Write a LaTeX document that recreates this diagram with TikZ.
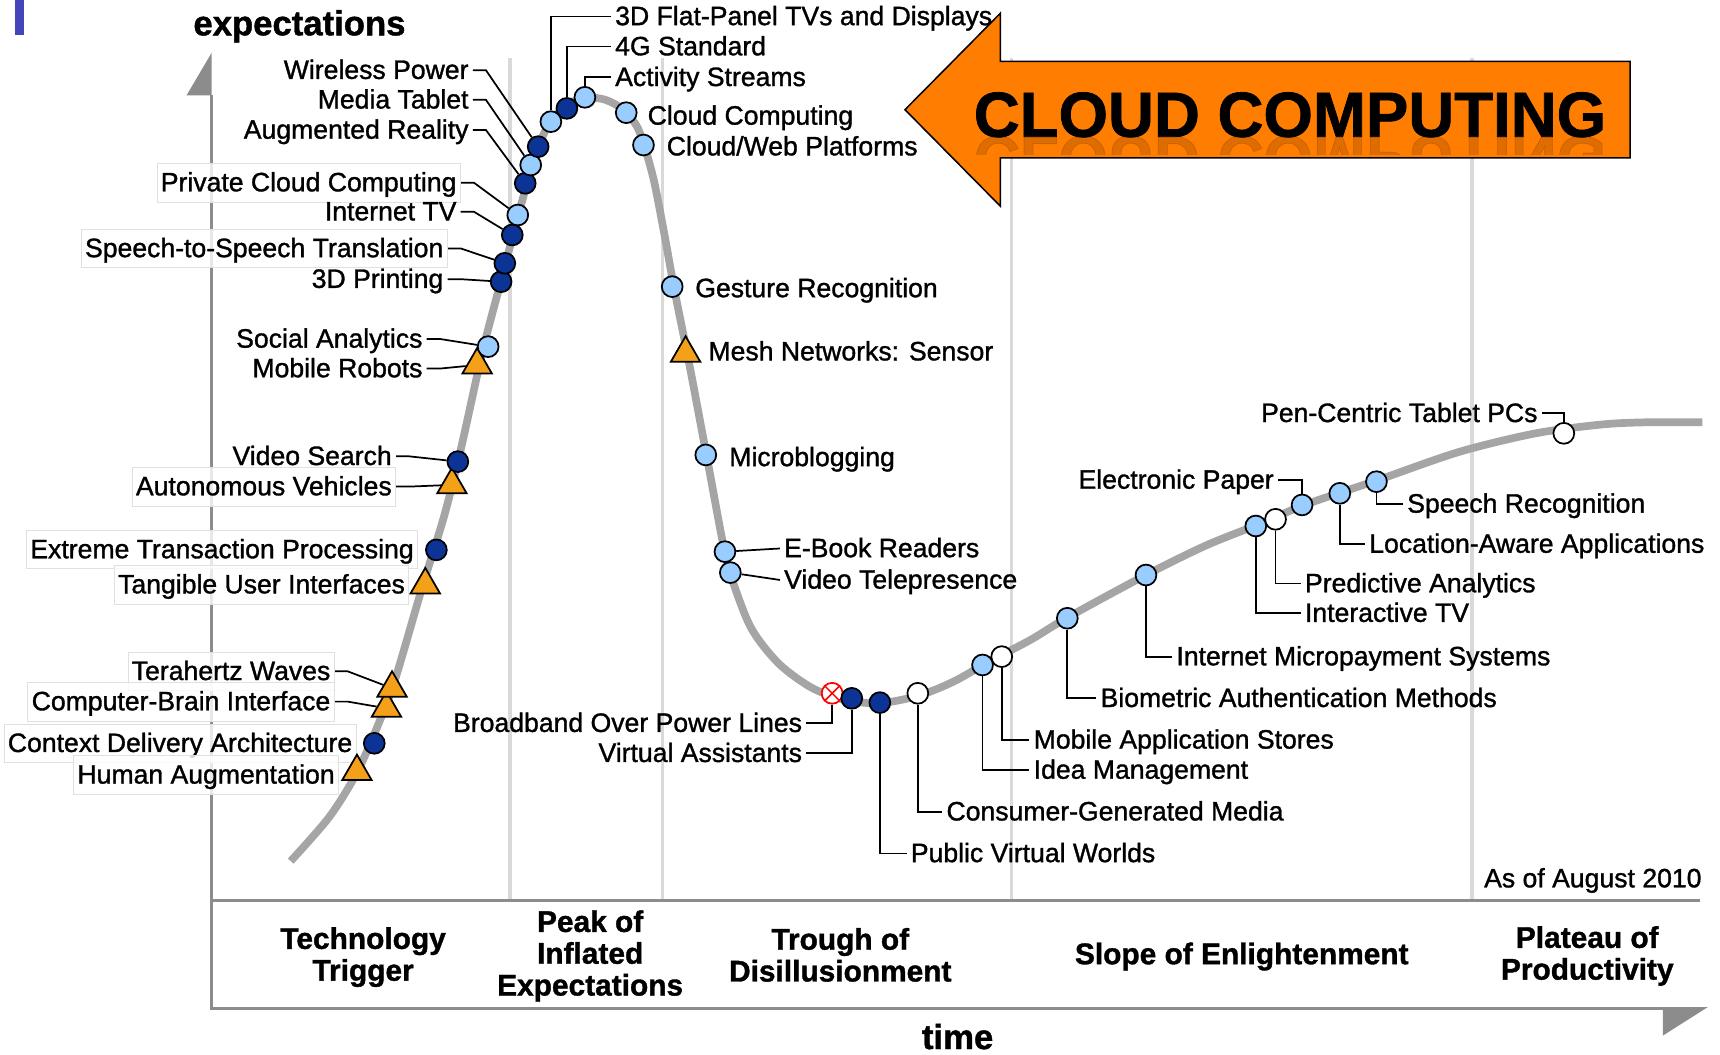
\documentclass[tikz,border=0pt]{standalone}
\usepackage{fontspec}
\setmainfont{Liberation Sans}[FakeBold=1.2]
\usetikzlibrary{shapes.geometric,backgrounds}

\definecolor{dkblue}{RGB}{12,52,150}
\definecolor{ltblue}{RGB}{153,204,255}
\definecolor{tri}{RGB}{245,160,25}
\definecolor{cloudorange}{RGB}{255,125,0}
\definecolor{curvegray}{RGB}{165,165,165}
\definecolor{sepgray}{RGB}{217,217,217}
\definecolor{axisgray}{RGB}{140,140,140}
\definecolor{barblue}{RGB}{68,68,187}

\tikzset{
  mk/.style={circle,draw=black,line width=0.9pt,minimum size=0.38cm,inner sep=0pt},
  dk/.style={mk,fill=dkblue},
  lt/.style={mk,fill=ltblue},
  wt/.style={mk,fill=white},
  tr/.style={regular polygon,regular polygon sides=3,draw=black,line width=0.9pt,fill=tri,minimum size=0.62cm,inner sep=0pt},
  xx/.style={mk,draw=red,fill=white,path picture={\draw[red,line width=0.8pt] (path picture bounding box.north west)--(path picture bounding box.south east) (path picture bounding box.north east)--(path picture bounding box.south west);}},
  lbl/.style={font=\fontsize{13.8}{15}\selectfont,inner sep=2pt,text height=12.5pt,text depth=3.5pt},
  lbe/.style={lbl,anchor=east},
  lbw/.style={lbl,anchor=west},
  boxed/.style={fill=white,fill opacity=0.8,text opacity=1,draw=black!12,line width=0.4pt},
  lead/.style={line width=0.9pt},
  phase/.style={font=\bfseries\fontsize{15.5}{16.5}\selectfont,align=center},
  axlbl/.style={font=\bfseries\fontsize{18}{20}\selectfont},
}

\begin{document}
\begin{tikzpicture}[x=0.02cm,y=-0.02cm]
\useasboundingbox (0,0) rectangle (1568,961);

\begin{scope}[on background layer]
  \fill[barblue] (14,0) rectangle (22,32);
  \foreach \sx in {465,604,922,1342}
    \draw[sepgray,line width=1.7pt] (\sx,53) -- (\sx,821);
  % axes and phase band
  \draw[axisgray,line width=1.6pt] (193,87) -- (193,919) -- (1516,919);
  \draw[axisgray,line width=1.6pt] (193,821) -- (1550,821);
  \fill[axisgray] (193,48) -- (193,87) -- (170,87) -- cycle;
  \fill[axisgray] (1516,918) -- (1557,918) -- (1516,944) -- cycle;
  % hype curve
  \draw[curvegray,line width=4pt] plot[smooth] coordinates {(265,785) (300,745) (325,705) (345,660) (360,620) (385,535) (405,470) (420,410) (440,320) (457,255) (472,198) (490,135) (505,107) (520,94) (535,89) (552,91) (568,100) (582,118) (595,160) (605,210) (615,265) (628,330) (645,420) (660,500) (668,530) (685,573) (710,605) (740,627) (770,638) (802,641) (838,634) (870,621) (900,604) (940,583) (973,563) (1045,524) (1100,497) (1150,477) (1190,460) (1255,438) (1330,412) (1400,395) (1460,387) (1500,385) (1552,385)};
\end{scope}

\node[axlbl] (ylab) at (273,24) {expectations};
\node[axlbl] (xlab) at (873,945) {time};

\node[phase] (ptt) at (331,872.5) {Technology\\Trigger};
\node[phase] (ppk) at (538,871.5) {Peak of\\Inflated\\Expectations};
\node[phase] (ptr) at (766,870.5) {Trough of\\Disillusionment};
\node[phase] (psl) at (1132,872) {Slope of Enlightenment};
\node[phase] (ppl) at (1447,871.5) {Plateau of\\Productivity};
\node[lbe] (asof) at (1555,801) {As of August 2010};

% labels left of the curve
\node[lbe] (lwp) at (431,64) {Wireless Power};
\node[lbe] (lmt) at (431,91) {Media Tablet};
\node[lbe] (lar) at (431,118.5) {Augmented Reality};
\node[lbe,boxed] (lpcc) at (420,166.5) {Private Cloud Computing};
\node[lbe] (linettv) at (420,193) {Internet TV};
\node[lbe,boxed] (lsst) at (408,226.5) {Speech-to-Speech Translation};
\node[lbe] (l3dp) at (408,254.5) {3D Printing};
\node[lbe] (lsa) at (389,309) {Social Analytics};
\node[lbe] (lmr) at (389,336) {Mobile Robots};
\node[lbe] (lvs) at (361,416) {Video Search};
\node[lbe,boxed] (lav) at (361,443.6) {Autonomous Vehicles};
\node[lbe,boxed] (letp) at (381,501) {Extreme Transaction Processing};
\node[lbe,boxed] (ltui) at (373,533) {Tangible User Interfaces};
\node[lbe,boxed] (ltw) at (305,612) {Terahertz Waves};
\node[lbe,boxed] (lcbi) at (305,639.6) {Computer-Brain Interface};
\node[lbe,boxed] (lcda) at (325,677.6) {Context Delivery Architecture};
\node[lbe,boxed] (lha) at (309,706.4) {Human Augmentation};
\node[lbe] (lbpl) at (735,659.3) {Broadband Over Power Lines};
\node[lbe] (lva) at (735,686.7) {Virtual Assistants};
\node[lbe] (lep) at (1165,437.6) {Electronic Paper};
\node[lbe] (lpen) at (1405.5,376.8) {Pen-Centric Tablet PCs};

% labels right of the curve
\node[lbw] (lfp) at (557,15) {3D Flat-Panel TVs and Displays};
\node[lbw] (l4g) at (557,42.5) {4G Standard};
\node[lbw] (las) at (557,70.5) {Activity Streams};
\node[lbw] (lcc) at (586.6,105.7) {Cloud Computing};
\node[lbw] (lcwp) at (604,133.7) {Cloud/Web Platforms};
\node[lbw] (lgr) at (630,263) {Gesture Recognition};
\node[lbw] (lmns) at (642,320.6) {Mesh Networks: Sensor};
\node[lbw] (lmb) at (661,417) {Microblogging};
\node[lbw] (lebr) at (711,500) {E-Book Readers};
\node[lbw] (lvt) at (711,528.7) {Video Telepresence};
\node[lbw] (lpvw) at (826.5,778) {Public Virtual Worlds};
\node[lbw] (lcgm) at (859,740) {Consumer-Generated Media};
\node[lbw] (lim) at (938.5,702) {Idea Management};
\node[lbw] (lmas) at (938.5,674.5) {Mobile Application Stores};
\node[lbw] (lbam) at (999.5,636.6) {Biometric Authentication Methods};
\node[lbw] (lims) at (1068.6,598.6) {Internet Micropayment Systems};
\node[lbw] (litv) at (1185.8,559) {Interactive TV};
\node[lbw] (lpa) at (1185.8,532) {Predictive Analytics};
\node[lbw] (llaa) at (1244.4,496) {Location-Aware Applications};
\node[lbw] (lsr) at (1279,459.4) {Speech Recognition};

% markers on the curve
\node[tr] (mha) at (325.4,703.4) {};
\node[dk] (mcda) at (341.2,677.6) {};
\node[tr] (mcbi) at (352.3,645.7) {};
\node[tr] (mtw) at (357.4,627.4) {};
\node[tr] (mtui) at (387.7,533.2) {};
\node[dk] (metp) at (397.8,501.3) {};
\node[tr] (mav) at (412,442) {};
\node[dk] (mvs) at (417.4,420.8) {};
\node[tr] (mmr) at (435,332.7) {};
\node[lt] (msa) at (445,316) {};
\node[dk] (m3dp) at (456.8,256.8) {};
\node[dk] (msst) at (460.2,240) {};
\node[dk] (minettv) at (467,214.2) {};
\node[lt] (mpcc) at (472,196) {};
\node[dk] (mar) at (478.8,167.1) {};
\node[lt] (mmt) at (483.8,150.4) {};
\node[dk] (mwp) at (490.6,133.7) {};
\node[dk] (m4g) at (516.8,98.8) {};
\node[lt] (mfp) at (502.2,110.9) {};
\node[lt] (mas) at (533.2,88.7) {};
\node[lt] (mcc) at (570.9,102.7) {};
\node[lt] (mcwp) at (586.6,132.2) {};
\node[lt] (mgr) at (612.8,261.3) {};
\node[tr] (mmns) at (625,322) {};
\node[lt] (mmb) at (643.4,414.7) {};
\node[lt] (mebr) at (660.9,502.9) {};
\node[lt] (mvt) at (665.8,522) {};
\node[xx] (mbpl) at (758.6,632) {};
\node[dk] (mva) at (776.5,636.6) {};
\node[dk] (mpvw) at (802.1,640.5) {};
\node[wt] (mcgm) at (836.7,632) {};
\node[lt] (mim) at (895.7,606.2) {};
\node[wt] (mmas) at (913.2,598.6) {};
\node[lt] (mbam) at (973,563.6) {};
\node[lt] (mims) at (1044.7,524.2) {};
\node[lt] (mitv) at (1144.8,479.5) {};
\node[wt] (mpa) at (1162.8,473.4) {};
\node[lt] (mep) at (1187,460.3) {};
\node[lt] (mlaa) at (1221.4,449.7) {};
\node[lt] (msr) at (1254.8,439.1) {};
\node[wt] (mpen) at (1425.6,395) {};

\begin{scope}[on background layer]
  \foreach \a in {wp,mt,ar,pcc,inettv,sst,3dp,sa,mr,vs,av,tw,cbi}
    \draw[lead] (l\a.east) -- ++(12,0) -- (m\a);
  \foreach \a in {fp,4g,as,pvw,cgm,im,mas,bam,ims,itv,pa,laa,sr}
    \draw[lead] (l\a.west) -| (m\a);
  \foreach \a in {bpl,va,ep,pen}
    \draw[lead] (l\a.east) -| (m\a);
  \draw[lead] (lebr.west) -- (mebr);
  \draw[lead] (lvt.west) -- (mvt);
\end{scope}

% cloud computing arrow
\draw[fill=cloudorange,line width=0.8pt] (825,100) -- (912,12) -- (912,56) -- (1486,56) -- (1486,144) -- (912,144) -- (912,188) -- cycle;
\node[font=\bfseries\fontsize{33}{36}\selectfont,anchor=base] (cloud) at (1176,124.6) {CLOUD COMPUTING};
\begin{scope}
  \clip (880,125) rectangle (1485,141);
  \begin{scope}[shift={(1176,124.6)},yscale=-1]
    \node[font=\bfseries\fontsize{33}{36}\selectfont,anchor=base,transform shape,text=black,text opacity=0.13] (cloudref) at (0,0) {CLOUD COMPUTING};
  \end{scope}
\end{scope}
\end{tikzpicture}
\end{document}
